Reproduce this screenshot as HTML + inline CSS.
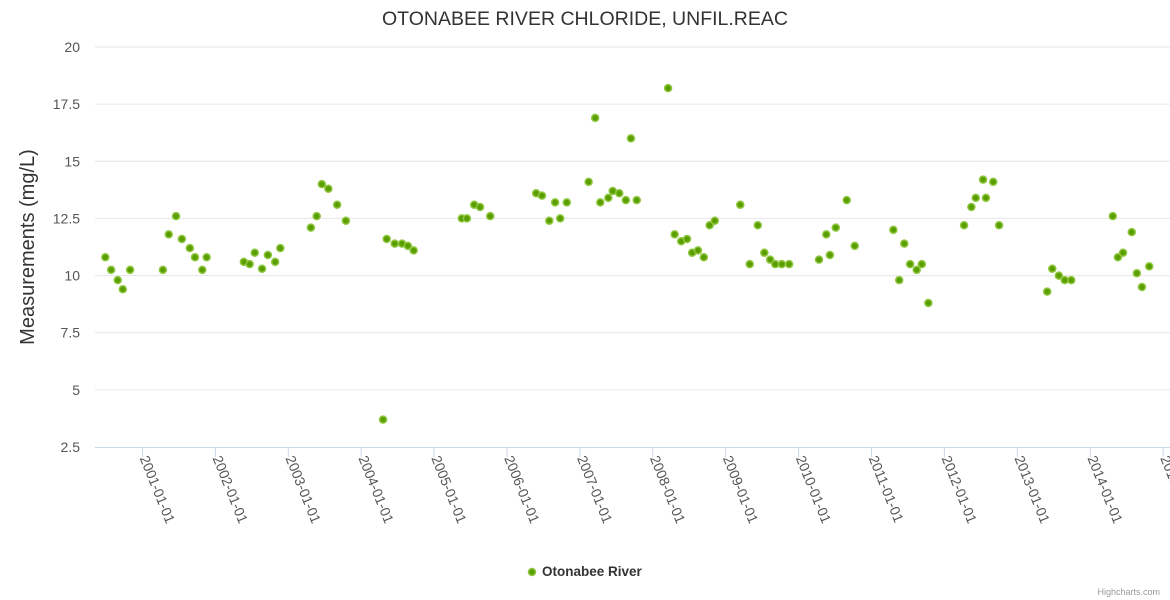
<!DOCTYPE html>
<html><head><meta charset="utf-8"><style>
html,body{margin:0;padding:0;background:#fff;}
svg{display:block;font-family:"Liberation Sans","DejaVu Sans",sans-serif;}
</style></head><body>
<svg id="chart" width="1170" height="600">
<text x="585" y="25" text-anchor="middle" font-size="19.5" fill="#333">OTONABEE RIVER CHLORIDE, UNFIL.REAC</text>
<text transform="translate(34,247) rotate(-90)" text-anchor="middle" font-size="20" fill="#333">Measurements (mg/L)</text>
<g id="grid"></g><g id="xaxis"></g><g id="pts"></g>
<g>
<circle cx="532" cy="572" r="3.5" fill="#5b9e00" stroke="#8dc63f" stroke-width="1.5"/>
<text x="542" y="576" font-size="13.5" font-weight="bold" fill="#333">Otonabee River</text>
</g>
<text x="1160" y="595" text-anchor="end" font-size="9" fill="#999">Highcharts.com</text>
</svg>
<script>
const dates=[2000.49,2000.57,2000.66,2000.73,2000.83,2001.28,2001.36,2001.46,2001.54,2001.65,2001.72,2001.82,2001.88,2002.39,2002.47,2002.54,2002.64,2002.72,2002.82,2002.89,2003.31,2003.39,2003.46,2003.55,2003.67,2003.79,2004.30,2004.35,2004.46,2004.56,2004.64,2004.72,2005.38,2005.45,2005.55,2005.63,2005.77,2006.40,2006.48,2006.58,2006.66,2006.73,2006.82,2007.12,2007.21,2007.28,2007.39,2007.45,2007.54,2007.63,2007.70,2007.78,2008.21,2008.30,2008.39,2008.47,2008.54,2008.62,2008.70,2008.78,2008.85,2009.20,2009.33,2009.44,2009.53,2009.61,2009.68,2009.77,2009.87,2010.28,2010.38,2010.43,2010.51,2010.66,2010.77,2011.30,2011.38,2011.45,2011.53,2011.62,2011.69,2011.78,2012.27,2012.37,2012.43,2012.53,2012.57,2012.67,2012.75,2013.41,2013.48,2013.57,2013.65,2013.74,2014.31,2014.38,2014.45,2014.57,2014.64,2014.71,2014.81];
const values=[10.8,10.25,9.8,9.4,10.25,10.25,11.8,12.6,11.6,11.2,10.8,10.25,10.8,10.6,10.5,11.0,10.3,10.9,10.6,11.2,12.1,12.6,14.0,13.8,13.1,12.4,3.7,11.6,11.4,11.4,11.3,11.1,12.5,12.5,13.1,13.0,12.6,13.6,13.5,12.4,13.2,12.5,13.2,14.1,16.9,13.2,13.4,13.7,13.6,13.3,16.0,13.3,18.2,11.8,11.5,11.6,11.0,11.1,10.8,12.2,12.4,13.1,10.5,12.2,11.0,10.7,10.5,10.5,10.5,10.7,11.8,10.9,12.1,13.3,11.3,12.0,9.8,11.4,10.5,10.25,10.5,8.8,12.2,13.0,13.4,14.2,13.4,14.1,12.2,9.3,10.3,10.0,9.8,9.8,12.6,10.8,11.0,11.9,10.1,9.5,10.4];
const yTicks=[2.5,5,7.5,10,12.5,15,17.5,20];
const yTickLabels=["2.5","5","7.5","10","12.5","15","17.5","20"];
const xTicks=[2001,2002,2003,2004,2005,2006,2007,2008,2009,2010,2011,2012,2013,2014,2015];
const xTickLabels=xTicks.map(y=>y+"-01-01");
const NS="http://www.w3.org/2000/svg";
const L=95,R=1170,T=47,B=447;
const ys=v=>B-(v-2.5)/(20-2.5)*(B-T);
const xs=d=>142.5+(d-2001)*72.9;
function mk(tag,attrs,parent){const e=document.createElementNS(NS,tag);for(const k in attrs)e.setAttribute(k,attrs[k]);parent.appendChild(e);return e;}
const grid=document.getElementById('grid');
yTicks.forEach((v,i)=>{
 if(i>0){const l=mk('line',{x1:L,x2:R,y1:ys(v),y2:ys(v),stroke:'#e6e6e6'},grid);
 
 }
 const t=mk('text',{x:80,y:ys(v)+5,'text-anchor':'end','font-size':14,fill:'#555'},grid);
 t.textContent=yTickLabels[i];
 
 
});
const xa=document.getElementById('xaxis');
const ax=mk('line',{x1:L,x2:R,y1:B+0.5,y2:B+0.5,stroke:'#ccd6eb'},xa);


xTicks.forEach((d,i)=>{
 const x=xs(d);
 const tk=mk('line',{x1:x,x2:x,y1:B,y2:B+10,stroke:'#ccd6eb'},xa);
 
 
 const t=mk('text',{transform:`translate(${x-3},${B+11}) rotate(68)`,'font-size':14,fill:'#555'},xa);
 t.textContent=xTickLabels[i];
 
 
});
const pts=document.getElementById('pts');
dates.forEach((d,i)=>{
 const c=mk('circle',{cx:xs(d),cy:ys(values[i]),r:3.5,fill:'#5b9e00',stroke:'#8dc63f','stroke-width':1.5},pts);
 
 
});
</script>
</body></html>
